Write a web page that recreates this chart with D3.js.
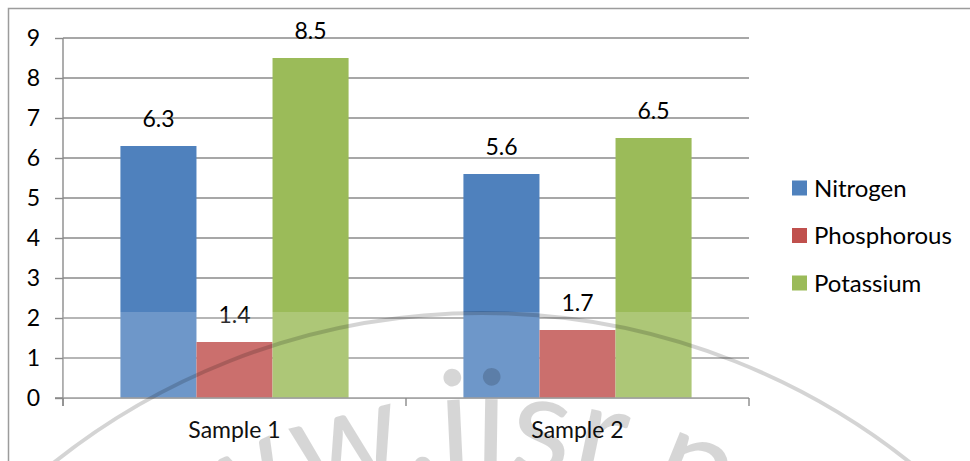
<!DOCTYPE html>
<html>
<head>
<meta charset="utf-8">
<script src="https://cdn.jsdelivr.net/npm/d3@7"></script>
<style>
  html, body { margin: 0; padding: 0; background: #fff; }
  svg { display: block; font-family: Lato, "Open Sans", sans-serif; }
</style>
</head>
<body>
<svg id="chart" width="970" height="461"></svg>
<script>
// Nutrient content per sample
const categories = ["Sample 1", "Sample 2"];
const series = ["Nitrogen", "Phosphorous", "Potassium"];
const nitrogen = [6.3, 5.6];
const phosphorous = [1.4, 1.7];
const potassium = [8.5, 6.5];
const yTicks = [0, 1, 2, 3, 4, 5, 6, 7, 8, 9];
const colors = ["#4F81BD", "#C0504D", "#9BBB59"];

const values = [nitrogen, phosphorous, potassium];
const rows = categories.map((c, i) => ({
  category: c,
  bars: series.map((s, j) => ({ series: s, value: values[j][i] }))
}));

const svg = d3.select("#chart");
const W = 970, H = 461;
const plot = { left: 63, right: 749, top: 38, bottom: 398 };
const FONT = "Lato, 'Open Sans', sans-serif";

const x0 = d3.scaleBand().domain(categories).range([plot.left, plot.right]);
const x1 = d3.scaleBand().domain(series).range([0, x0.bandwidth()]).paddingOuter(0.755);
const y = d3.scaleLinear().domain([0, 9]).range([plot.bottom, plot.top]);
const color = d3.scaleOrdinal().domain(series).range(colors);

// chart frame
svg.append("path")
  .attr("d", `M8.5,${H} V8.5 H${W}`)
  .attr("fill", "none").attr("stroke", "#9c9c9c").attr("stroke-width", 1.5);

// horizontal gridlines
svg.append("g").selectAll("line")
  .data(yTicks.filter(t => t > 0))
  .join("line")
  .attr("x1", plot.left).attr("x2", plot.right)
  .attr("y1", d => y(d)).attr("y2", d => y(d))
  .attr("stroke", "#8a8a8a").attr("stroke-width", 1.4);

// bars
const groups = svg.append("g").selectAll("g")
  .data(rows).join("g")
  .attr("transform", d => `translate(${x0(d.category)},0)`);

groups.selectAll("rect")
  .data(d => d.bars).join("rect")
  .attr("x", d => x1(d.series))
  .attr("width", x1.bandwidth())
  .attr("y", d => y(d.value))
  .attr("height", d => y(0) - y(d.value))
  .attr("fill", d => color(d.series));

// value labels
groups.selectAll("text")
  .data(d => d.bars).join("text")
  .attr("x", d => x1(d.series) + x1.bandwidth() / 2)
  .attr("y", d => y(d.value) - 19)
  .attr("text-anchor", "middle")
  .attr("font-size", 23)
  .attr("fill", "#000")
  .text(d => d.value.toFixed(1));

// y axis
const yAxis = svg.append("g")
  .attr("transform", `translate(${plot.left},0)`)
  .attr("font-size", 23).attr("font-family", FONT)
  .call(d3.axisLeft(y).tickValues(yTicks).tickFormat(d3.format("d")).tickSize(8).tickPadding(15));
yAxis.attr("font-size", 23).attr("font-family", FONT);
yAxis.select(".domain").attr("stroke", "#8a8a8a").attr("stroke-width", 1.4)
  .attr("d", `M0,${plot.top}V${plot.bottom + 8}`);
yAxis.selectAll(".tick line").attr("stroke", "#8a8a8a").attr("stroke-width", 1.4);
yAxis.selectAll(".tick text").attr("fill", "#000");

// x axis baseline with ticks at category boundaries
const xg = svg.append("g");
xg.append("line")
  .attr("x1", plot.left - 8).attr("x2", plot.right)
  .attr("y1", y(0)).attr("y2", y(0))
  .attr("stroke", "#8a8a8a").attr("stroke-width", 1.4);
const bounds = categories.map(c => x0(c)).concat([x0(categories[categories.length - 1]) + x0.bandwidth()]);
xg.selectAll("line.tick").data(bounds).join("line").attr("class", "tick")
  .attr("x1", d => d).attr("x2", d => d)
  .attr("y1", y(0)).attr("y2", y(0) + 8)
  .attr("stroke", "#8a8a8a").attr("stroke-width", 1.4);
xg.selectAll("text").data(categories).join("text")
  .attr("x", d => x0(d) + x0.bandwidth() / 2)
  .attr("y", 438)
  .attr("text-anchor", "middle")
  .attr("font-size", 23)
  .attr("fill", "#111")
  .text(d => d);

// legend
const legend = svg.append("g").selectAll("g")
  .data(series).join("g")
  .attr("transform", (d, i) => `translate(792,${188 + i * 47.5})`);
legend.append("rect")
  .attr("x", 0).attr("y", -7.5).attr("width", 15).attr("height", 15)
  .attr("fill", d => color(d));
legend.append("text")
  .attr("x", 22).attr("y", 0).attr("dy", "0.36em")
  .attr("font-size", 24).attr("fill", "#000")
  .text(d => d);

// publisher watermark: light band, ring and lettering
const wm = svg.append("g").attr("pointer-events", "none");
wm.append("rect")
  .attr("x", plot.left).attr("y", 312)
  .attr("width", plot.right - plot.left).attr("height", plot.bottom - 312)
  .attr("fill", "#fff").attr("opacity", 0.18);
const cx = 482, cy = 1000;
wm.append("circle")
  .attr("cx", cx).attr("cy", cy).attr("r", 687)
  .attr("fill", "none").attr("stroke", "#000").attr("stroke-opacity", 0.17).attr("stroke-width", 4);
const rb = 530;
wm.append("path").attr("id", "wmArc")
  .attr("d", `M${cx - rb},${cy} A${rb},${rb} 0 0 1 ${cx + rb},${cy}`)
  .attr("fill", "none");
const wmSize = 140;
const probe = wm.append("text").attr("font-size", wmSize).attr("font-family", FONT).text("www.");
const lead = probe.node().getComputedTextLength();
probe.remove();
const targetArc = rb * Math.acos((cx - 440) / rb);
wm.append("text")
  .attr("font-size", wmSize)
  .attr("font-family", FONT)
  .attr("fill", "#000").attr("fill-opacity", 0.16)
  .append("textPath")
  .attr("href", "#wmArc")
  .attr("startOffset", targetArc - lead)
  .text("www.ijsr.net");
</script>
</body>
</html>
